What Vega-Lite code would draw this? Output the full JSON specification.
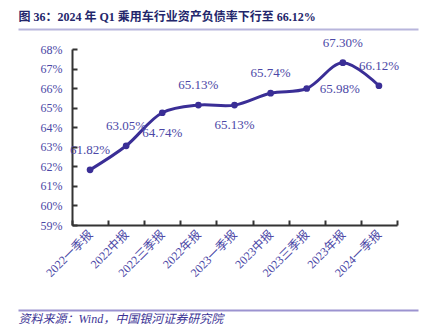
{
  "$schema": "https://vega.github.io/schema/vega-lite/v6.json",
  "width": 400,
  "height": 176,
  "autosize": {"type": "none"},
  "padding": {"left": 18, "top": 49, "right": 17, "bottom": 103},
  "background": "white",
  "config": {"view": {"stroke": null}, "font": "Liberation Serif"},
  "data": {
    "values": [
      {"q": "2022一季报", "v": 0.6182},
      {"q": "2022中报", "v": 0.6305},
      {"q": "2022三季报", "v": 0.6474},
      {"q": "2022年报", "v": 0.6513},
      {"q": "2023一季报", "v": 0.6513},
      {"q": "2023中报", "v": 0.6574},
      {"q": "2023三季报", "v": 0.6598},
      {"q": "2023年报", "v": 0.6730},
      {"q": "2024一季报", "v": 0.6612}
    ]
  },
  "resolve": {"scale": {"x": "independent"}, "axis": {"x": "independent"}},
  "layer": [
    {
      "mark": {"type": "point", "opacity": 0},
      "encoding": {
        "x": {"field": "q", "type": "nominal", "sort": null,
          "axis": {"orient": "bottom", "offset": 85, "domain": true, "domainColor": "#9c93d0", "domainWidth": 2, "domainOpacity": 1, "ticks": false, "labels": false, "grid": false,
            "title": "资料来源：Wind，中国银河证券研究院", "titleAnchor": "start", "titleAlign": "left", "titlePadding": 3,
            "titleFont": "Liberation Serif, Noto Sans CJK SC", "titleFontSize": 12, "titleFontStyle": "italic", "titleFontWeight": "normal", "titleColor": "#3d3596"}}
      }
    },
    {
      "mark": {"type": "point", "opacity": 0},
      "encoding": {
        "x": {"field": "q", "type": "nominal", "sort": null,
          "axis": {"orient": "top", "offset": 20, "domain": true, "domainColor": "#b8b5dc", "domainWidth": 2, "domainOpacity": 1, "ticks": false, "labels": false, "grid": false,
            "title": "图 36：2024 年 Q1 乘用车行业资产负债率下行至 66.12%", "titleAnchor": "start", "titleAlign": "left", "titleBaseline": "alphabetic", "titlePadding": 9,
            "titleFont": "Liberation Serif, Noto Sans CJK SC", "titleFontSize": 12, "titleFontWeight": "bold", "titleColor": "#23266b"}}
      }
    },
    {
      "encoding": {
        "x": {"field": "q", "type": "nominal", "sort": null,
          "scale": {"range": [54, 379], "paddingInner": 0, "paddingOuter": 0},
          "axis": {"title": null, "tickBand": "extent", "labelAngle": -45, "labelAlign": "right", "labelBaseline": "middle",
            "domainColor": "#333333", "domainWidth": 2, "tickColor": "#333333", "tickSize": -5, "tickWidth": 2,
            "labelColor": "#4b47a6", "labelFont": "Liberation Serif, Noto Sans CJK SC", "labelFontSize": 12, "labelPadding": 12, "grid": false}},
        "y": {"field": "v", "type": "quantitative",
          "scale": {"domain": [0.59, 0.68], "zero": false, "nice": false},
          "axis": {"orient": "left", "offset": -54, "title": null, "grid": false, "labelOverlap": false,
            "values": [0.59, 0.60, 0.61, 0.62, 0.63, 0.64, 0.65, 0.66, 0.67, 0.68], "format": ".0%",
            "domainColor": "#333333", "domainWidth": 2, "tickColor": "#333333", "tickSize": -5, "tickWidth": 2,
            "labelColor": "#4b47a6", "labelFont": "Liberation Serif", "labelFontSize": 12, "labelPadding": 15}}
      },
      "layer": [
        {"mark": {"type": "line", "interpolate": "catmull-rom", "strokeWidth": 3, "color": "#3a2e96"}},
        {"mark": {"type": "point", "filled": true, "size": 45, "opacity": 1, "color": "#3a2e96"}},
        {
          "transform": [{"filter": {"field": "q", "oneOf": ["2022一季报", "2022中报", "2022年报", "2023中报", "2023年报", "2024一季报"]}}],
          "mark": {"type": "text", "dy": -20, "fontSize": 13, "font": "Liberation Serif", "color": "#4b47a6"},
          "encoding": {"text": {"field": "v", "type": "quantitative", "format": ".2%"}}
        },
        {
          "transform": [{"filter": {"field": "q", "oneOf": ["2022三季报", "2023一季报"]}}],
          "mark": {"type": "text", "dy": 20, "fontSize": 13, "font": "Liberation Serif", "color": "#4b47a6"},
          "encoding": {"text": {"field": "v", "type": "quantitative", "format": ".2%"}}
        },
        {
          "transform": [{"filter": {"field": "q", "equal": "2023三季报"}}],
          "mark": {"type": "text", "dx": 33, "dy": 0, "fontSize": 13, "font": "Liberation Serif", "color": "#4b47a6"},
          "encoding": {"text": {"field": "v", "type": "quantitative", "format": ".2%"}}
        }
      ]
    }
  ]
}
